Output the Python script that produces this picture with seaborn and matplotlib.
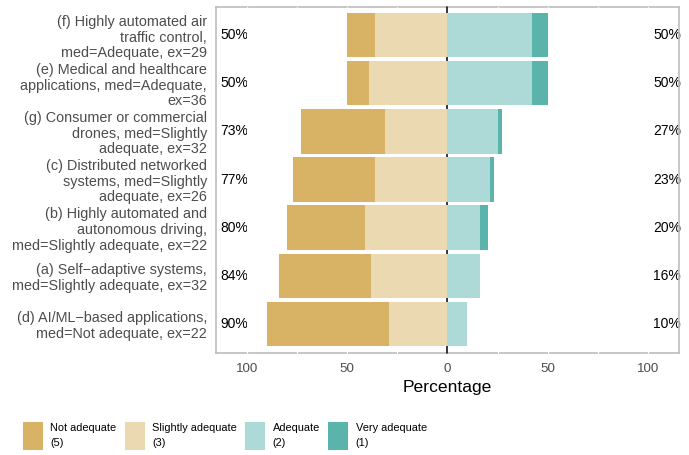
import matplotlib
matplotlib.use("Agg")
import matplotlib.pyplot as plt
from matplotlib import font_manager
from matplotlib.patches import Patch
import seaborn as sns
import pandas as pd
import numpy as np

# ---- data (top to bottom) ----
categories = [
    "(f) Highly automated air\ntraffic control,\nmed=Adequate, ex=29",
    "(e) Medical and healthcare\napplications, med=Adequate,\nex=36",
    "(g) Consumer or commercial\ndrones, med=Slightly\nadequate, ex=32",
    "(c) Distributed networked\nsystems, med=Slightly\nadequate, ex=26",
    "(b) Highly automated and\nautonomous driving,\nmed=Slightly adequate, ex=22",
    "(a) Self\u2212adaptive systems,\nmed=Slightly adequate, ex=32",
    "(d) AI/ML\u2212based applications,\nmed=Not adequate, ex=22",
]
not_adequate = [14, 11, 42, 41, 39, 46, 61]
slightly_adequate = [36, 39, 31, 36, 41, 38, 29]
adequate = [42, 42, 25, 21, 16, 16, 10]
very_adequate = [8, 8, 2, 2, 4, 0, 0]

level_labels = ["Not adequate\n(5)", "Slightly adequate\n(3)", "Adequate\n(2)", "Very adequate\n(1)"]
level_colors = ["#D8B365", "#EBD9B1", "#ADD9D6", "#5AB4AC"]
xtick_values = [-100, -50, 0, 50, 100]
xtick_labels = ["100", "50", "0", "50", "100"]

df = pd.DataFrame({
    "category": categories,
    "not_adequate": not_adequate,
    "slightly": slightly_adequate,
    "adequate": adequate,
    "very": very_adequate,
})
df["low_total"] = df["not_adequate"] + df["slightly"]
df["high_total"] = df["adequate"] + df["very"]
df["neg_low_total"] = -df["low_total"]
df["neg_slightly"] = -df["slightly"]

sns.set_theme(style="white")
plt.rcParams["font.family"] = ["Liberation Sans", "DejaVu Sans"]

installed = {f.name for f in font_manager.fontManager.ttflist}
if "Liberation Sans Narrow" in installed:
    legend_family, legend_size, legend_ls = "Liberation Sans Narrow", 9.7, 1.3
else:
    legend_family, legend_size, legend_ls = "Liberation Sans", 7.9, 1.63

fig = plt.figure(figsize=(6.89, 4.55), dpi=100)
ax = fig.add_axes([216 / 689, 1 - 352.5 / 455, (679 - 216) / 689, (352.5 - 6.5) / 455])

common = dict(y="category", order=categories, orient="h", width=0.92,
              saturation=1, errorbar=None, ax=ax, zorder=2, linewidth=0)
sns.barplot(data=df, x="neg_low_total", color=level_colors[0], **common)
sns.barplot(data=df, x="neg_slightly", color=level_colors[1], **common)
sns.barplot(data=df, x="high_total", color=level_colors[3], **common)
sns.barplot(data=df, x="adequate", color=level_colors[2], **common)

ax.set_xlim(-115.3, 115.4)
ax.set_ylim(6.6, -0.6)

# white grid lines crossing the frame
for gx in [-100, -75, -50, -25, 25, 50, 75, 100]:
    ax.axvline(gx, color="white", lw=0.8, zorder=0.8, clip_on=False)
ax.axvline(0, color="black", lw=1.1, zorder=0.9, clip_on=False)

for sp in ax.spines.values():
    sp.set_visible(True)
    sp.set_color("#BDBDBD")
    sp.set_linewidth(1.2)
    sp.set_zorder(0.5)

# percent labels
for i, (lo, hi) in enumerate(zip(df["low_total"], df["high_total"])):
    ax.text(-113.0, i, f"{int(round(lo))}%", ha="left", va="center",
            fontsize=10, color="black", zorder=0.4)
    ax.text(102.5, i, f"{int(round(hi))}%", ha="left", va="center",
            fontsize=10, color="black", zorder=0.4, clip_on=False)

ax.set_xticks(xtick_values)
ax.set_xticklabels(xtick_labels)
ax.tick_params(axis="x", length=0, pad=7.2, labelsize=9.6, labelcolor="#4D4D4D")
ax.tick_params(axis="y", length=0, pad=6.5, labelsize=10.4, labelcolor="#4D4D4D")
for t in ax.get_yticklabels():
    t.set_linespacing(1.15)
    t.set_multialignment("right")
ax.set_xlabel("Percentage", fontsize=12.6, color="black", labelpad=4)
ax.set_ylabel("")

fs_px = legend_size * 100 / 72.0
hl = 20.0 / fs_px
hh = (28.0 / fs_px - 0.245) / 0.65
handles = [Patch(facecolor=c, edgecolor="none") for c in level_colors]
leg = fig.legend(handles, level_labels, loc="lower left",
                 bbox_to_anchor=(22.7 / 689, 5 / 455), ncol=4, frameon=False,
                 prop={"family": legend_family, "size": legend_size},
                 handlelength=hl, handleheight=hh,
                 handletextpad=7.7 / fs_px, columnspacing=8.0 / fs_px,
                 borderpad=0, borderaxespad=0)
for t in leg.get_texts():
    t.set_linespacing(legend_ls)
    t.set_color("black")

fig.savefig("out.png", dpi=100)
